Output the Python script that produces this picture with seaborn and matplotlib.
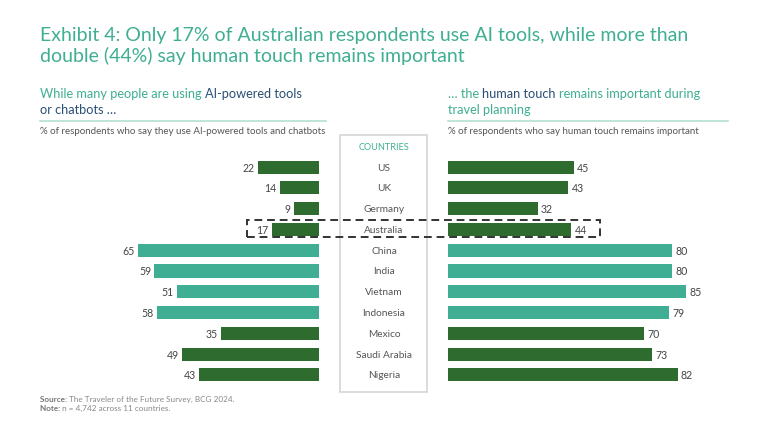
import matplotlib
matplotlib.use("Agg")
import matplotlib.pyplot as plt
from matplotlib.patches import Rectangle
from matplotlib.lines import Line2D
import seaborn as sns
import pandas as pd

countries = ["US", "UK", "Germany", "Australia", "China", "India", "Vietnam",
             "Indonesia", "Mexico", "Saudi Arabia", "Nigeria"]
ai_use = [22, 14, 9, 17, 65, 59, 51, 58, 35, 49, 43]
human_touch = [45, 43, 32, 44, 80, 80, 85, 79, 70, 73, 82]
groups = ["dark", "dark", "dark", "dark", "teal", "teal", "teal", "teal", "dark", "dark", "dark"]

TEAL = "#3FAE92"
GREEN = "#2D6B2E"
NAVY = "#2A4F75"
GREY = "#555555"
W, H = 768, 432
plt.rcParams["font.family"] = "Lato"

df = pd.DataFrame({"country": countries, "ai": ai_use, "human": human_touch, "group": groups})
palette = {"dark": GREEN, "teal": TEAL}

fig = plt.figure(figsize=(W / 100, H / 100), dpi=100)


def px_axes(x0, y0, x1, y1):
    return fig.add_axes([x0 / W, 1 - y1 / H, (x1 - x0) / W, (y1 - y0) / H])


def px(x, y):
    return x / W, 1 - y / H


top, bottom = 156.8, 385.2
ax_l = px_axes(319 - 2.79 * 70, top, 319, bottom)
ax_r = px_axes(448, top, 448 + 2.8 * 100, bottom)

for ax, col, sign in [(ax_l, "ai", -1), (ax_r, "human", 1)]:
    sns.barplot(data=df, y="country", x=col, hue="group", palette=palette, dodge=False,
                saturation=1, width=0.63, legend=False, ax=ax, order=countries)
    ax.set_axis_off()
    for i, row in df.iterrows():
        ax.annotate(str(row[col]), (row[col], i), xytext=(sign * 2.4, -0.7),
                    textcoords="offset points", ha="left" if sign > 0 else "right",
                    va="center", fontsize=7.6, color="#444444")
ax_l.set_xlim(70, 0)
ax_r.set_xlim(0, 100)
ax_l.set_ylim(10.5, -0.5)
ax_r.set_ylim(10.5, -0.5)

# Center box
fig.add_artist(Rectangle(px(340, 391.5), 87 / W, 257 / H, transform=fig.transFigure,
                         fill=False, ec="#D2D2D2", lw=1.1))
fig.text(*px(384, 147.5), "COUNTRIES", ha="center", va="center", fontsize=6.6, color=TEAL)
row_h = (bottom - top) / 11
for i, c in enumerate(countries):
    fig.text(*px(384, top + row_h * (i + 0.5) + 1), c, ha="center", va="center",
             fontsize=7.3, color="#555555")

# Dashed highlight
fig.add_artist(Rectangle(px(247, 237.3), 353 / W, 17 / H, transform=fig.transFigure,
                         fill=False, ec="#333333", lw=1.4, ls=(0, (4, 2.5))))

# Title
fig.text(*px(40, 35), "Exhibit 4: Only 17% of Australian respondents use AI tools, while more than",
         fontsize=14, color=TEAL, va="center", ha="left")
fig.text(*px(40, 56), "double (44%) say human touch remains important",
         fontsize=14, color=TEAL, va="center", ha="left")


def runs(x, y, parts, size):
    """Place coloured text runs one after another on one shared baseline."""
    renderer = fig.canvas.get_renderer()
    for txt, color, weight in parts:
        fig.text(*px(x, y), txt, fontsize=size, color=color, fontweight=weight,
                 va="baseline", ha="left")
        # a guard character keeps trailing spaces in the measured width
        probe = fig.text(0, 0, txt + "|", fontsize=size, fontweight=weight)
        bar = fig.text(0, 0, "|", fontsize=size, fontweight=weight)
        x += probe.get_window_extent(renderer).width - bar.get_window_extent(renderer).width
        probe.remove()
        bar.remove()


runs(40, 98.5, [("While many people are using ", TEAL, "normal"),
                ("AI-powered tools", NAVY, "normal")], 9.2)
runs(40, 114.5, [("or chatbots …", NAVY, "normal")], 9.2)
runs(448, 98.5, [("… the ", TEAL, "normal"), ("human touch ", NAVY, "normal"),
                 ("remains important during", TEAL, "normal")], 9.2)
runs(448, 114.5, [("travel planning", TEAL, "normal")], 9.2)

for x0, x1 in [(40, 326), (448, 728)]:
    fig.add_artist(Line2D([x0 / W, x1 / W], [1 - 121 / H] * 2, color="#B5DFD3", lw=1.2))

fig.text(*px(40, 131), "% of respondents who say they use AI-powered tools and chatbots",
         fontsize=7.05, color=GREY, va="center", ha="left")
fig.text(*px(448, 131), "% of respondents who say human touch remains important",
         fontsize=7.05, color=GREY, va="center", ha="left")

runs(40, 402, [("Source: ", "#777777", "bold"),
               ("The Traveler of the Future Survey, BCG 2024.", "#888888", "normal")], 5.9)
runs(40, 411, [("Note: ", "#777777", "bold"),
               ("n = 4,742 across 11 countries.", "#888888", "normal")], 5.9)

fig.savefig("out.png", dpi=100)
